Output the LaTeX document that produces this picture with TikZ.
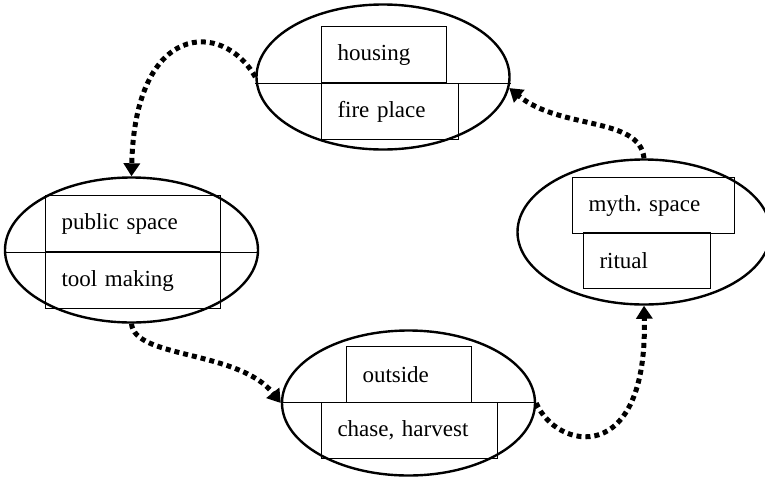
\documentclass[tikz,border=0pt]{standalone}
\usepackage{fontspec}
\setmainfont{Liberation Serif}
\usetikzlibrary{arrows.meta,shapes.geometric}

\begin{document}
\begin{tikzpicture}[
      x=1pt, y=-1pt,
      font=\fontsize{23}{27}\selectfont,
      place/.style={draw, ellipse, line width=2.4pt, inner sep=0pt,
                    minimum width=253pt, minimum height=145pt},
      divider/.style={line width=1pt},
      box/.style={draw, line width=1pt, anchor=north west, inner xsep=16pt,
                  inner ysep=0pt, minimum height=56pt, align=left},
      link/.style={line width=5pt, dash pattern=on 5pt off 4pt,
                   -{Triangle[length=13pt, width=16pt]}}]
    \useasboundingbox (0,0) rectangle (765,480);
    % the four places
    \node[place] (top)    at (383,77)  {};
    \node[place] (left)   at (131.5,250) {};
    \node[place] (bottom) at (408.5,403) {};
    \node[place] (right)  at (644,232) {};
    % activities
    \node[box, text width=93pt]  (housing) at (321,26)  {housing};
    \node[box, text width=105pt] (fire)    at (housing.south west) {fire place};
    \node[box, text width=143pt] (public)  at (45,195)  {public space};
    \node[box, text width=143pt] (tool)    at (public.south west) {tool making};
    \node[box, text width=93pt]  (outside) at (346,346) {outside};
    \node[box, text width=144pt] (chase)   at (321,402) {chase, harvest};
    \node[box, text width=130pt] (myth)    at (572,177) {myth.\ space};
    \node[box, text width=95pt]  (ritual)  at (583,232) {ritual};
    \draw[divider] (top.west |- fire.north) -- (top.east |- fire.north);
    \draw[divider] (left.west |- tool.north) -- (left.east |- tool.north);
    \draw[divider] (bottom.west |- chase.north) -- (bottom.east |- chase.north);
    % cycle
    \draw[link] (top.west) .. controls +(-32,-57) and +(3.5,-155) .. (left.north);
    \draw[link] (left.south) .. controls +(3,35) and +(-42,-53) .. (bottom.west);
    \draw[link] (bottom.east) .. controls +(20,47) and +(4,163) .. (right.south);
    \draw[link] (right.north) .. controls +(-4,-42) and +(51,42) .. (top.-5);
  \end{tikzpicture}
\end{document}
